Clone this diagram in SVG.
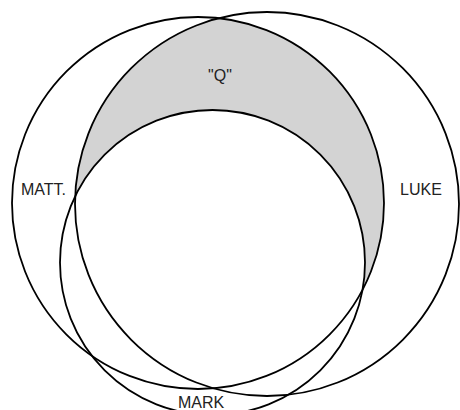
<svg xmlns="http://www.w3.org/2000/svg" width="460" height="410" viewBox="0 0 460 410">
<style>
.ring{fill:none;stroke:#000;stroke-width:1.8}
.lbl{font-family:"Liberation Sans",Arial,sans-serif;font-size:16px;fill:#222}
</style>
<defs>
<clipPath id="lukeClip"><circle cx="267" cy="204" r="192"/></clipPath>
</defs>
<rect width="460" height="410" fill="#fff"/>
<g id="q-region">
<circle cx="198" cy="203" r="186" fill="#d3d3d3" clip-path="url(#lukeClip)"/>
<circle cx="212.5" cy="262.5" r="152.5" fill="#fff"/>
<text class="lbl" x="220" y="81" text-anchor="middle">"Q"</text>
</g>
<g id="matt">
<circle class="ring" cx="198" cy="203" r="186"/>
<text class="lbl" x="21" y="195">MATT.</text>
</g>
<g id="luke">
<circle class="ring" cx="267" cy="204" r="192"/>
<text class="lbl" x="400" y="195">LUKE</text>
</g>
<g id="mark">
<circle class="ring" cx="212.5" cy="262.5" r="152.5"/>
<text class="lbl" x="178" y="408">MARK</text>
</g>
<g id="connectors"/>
</svg>
